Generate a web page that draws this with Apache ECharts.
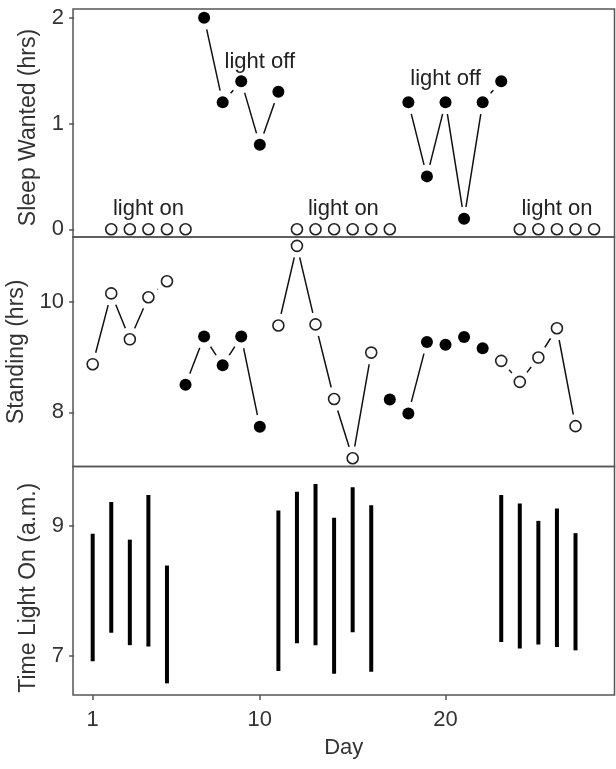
<!DOCTYPE html>
<html>
<head>
<meta charset="utf-8">
<script src="https://cdn.jsdelivr.net/npm/echarts@6/dist/echarts.min.js"></script>
<style>
html, body { margin: 0; padding: 0; background: #fff; }
#main { width: 616px; height: 769px; }
</style>
</head>
<body>
<div id="main"></div>
<script>
// panel 1 - sleep wanted (hrs)
var sleepOnDaysA = [2, 3, 4, 5, 6];
var sleepOnValsA = [0, 0, 0, 0, 0];
var sleepOffDaysA = [7, 8, 9, 10, 11];
var sleepOffValsA = [2.0, 1.2, 1.4, 0.8, 1.3];
var sleepOnDaysB = [12, 13, 14, 15, 16, 17];
var sleepOnValsB = [0, 0, 0, 0, 0, 0];
var sleepOffDaysB = [18, 19, 20, 21, 22, 23];
var sleepOffValsB = [1.2, 0.5, 1.2, 0.1, 1.2, 1.4];
var sleepOnDaysC = [24, 25, 26, 27, 28];
var sleepOnValsC = [0, 0, 0, 0, 0];

// panel 2 - standing (hrs)
var standOnDaysA = [1, 2, 3, 4, 5];
var standOnValsA = [8.87, 10.15, 9.32, 10.08, 10.37];
var standOffDaysA = [6, 7, 8, 9, 10];
var standOffValsA = [8.50, 9.37, 8.85, 9.37, 7.74];
var standOnDaysB = [11, 12, 13, 14, 15, 16];
var standOnValsB = [9.57, 11.01, 9.59, 8.24, 7.17, 9.08];
var standOffDaysB = [17, 18, 19, 20, 21, 22];
var standOffValsB = [8.23, 7.98, 9.27, 9.22, 9.36, 9.16];
var standOnDaysC = [23, 24, 25, 26, 27];
var standOnValsC = [8.93, 8.55, 8.99, 9.52, 7.75];

// panel 3 - time light on (a.m.), low / high
var lightDays = [1, 2, 3, 4, 5, 11, 12, 13, 14, 15, 16, 23, 24, 25, 26, 27];
var lightLow = [6.91, 7.35, 7.16, 7.14, 6.57, 6.76, 7.19, 7.16, 6.72, 7.36, 6.75, 7.21, 7.11, 7.17, 7.13, 7.08];
var lightHigh = [8.88, 9.37, 8.79, 9.48, 8.39, 9.24, 9.53, 9.65, 9.13, 9.60, 9.32, 9.48, 9.35, 9.08, 9.27, 8.89];

// annotations in panel 1
var noteText = ['light on', 'light off', 'light on', 'light off', 'light on'];
var noteDay = [4, 10, 14.5, 20, 26];
var noteVal = [0.19, 1.58, 0.19, 1.42, 0.19];

var dayTicks = [1, 10, 20];
var sleepTicks = [0, 1, 2];
var standTicks = [8, 10];
var lightTicks = [7, 9];

var FONT = 'Liberation Sans, Arial, sans-serif';
var TXT = '#333';
var FRAME = '#555';

var chartDom = document.getElementById('main');
var myChart = echarts.init(chartDom);

function pts(days, vals) {
    return days.map(function (d, i) {
        return [d, vals[i]];
    });
}

// line + white mask (gap round the points) + marker, like an R type="b" plot
function group(idx, days, vals, filled) {
    var data = pts(days, vals);
    return [{
        type: 'line',
        xAxisIndex: idx,
        yAxisIndex: idx,
        data: data,
        symbol: 'none',
        silent: true,
        z: 2,
        lineStyle: {color: '#111', width: 1.5}
    }, {
        type: 'scatter',
        xAxisIndex: idx,
        yAxisIndex: idx,
        data: data,
        symbolSize: 24,
        silent: true,
        z: 3,
        itemStyle: {color: '#fff', opacity: 1}
    }, {
        type: 'scatter',
        xAxisIndex: idx,
        yAxisIndex: idx,
        data: data,
        symbolSize: filled ? 12 : 11,
        z: 4,
        itemStyle: filled
            ? {color: '#000', opacity: 1}
            : {color: '#fff', borderColor: '#222', borderWidth: 1.6, opacity: 1}
    }];
}

function xAx(idx, showLabels) {
    return {
        type: 'value',
        gridIndex: idx,
        min: -0.06,
        max: 29.1,
        axisLine: {show: false},
        splitLine: {show: false},
        axisTick: {
            show: showLabels,
            customValues: dayTicks,
            length: 5,
            lineStyle: {color: FRAME, width: 1.5}
        },
        axisLabel: {
            show: showLabels,
            customValues: dayTicks,
            margin: 14,
            fontSize: 22,
            fontFamily: FONT,
            color: TXT
        },
        name: showLabels ? 'Day' : '',
        nameLocation: 'middle',
        nameGap: 42,
        nameTextStyle: {fontSize: 22, fontFamily: FONT, color: TXT}
    };
}

function yAx(idx, min, max, ticks, title, shift) {
    return {
        type: 'value',
        gridIndex: idx,
        min: min,
        max: max,
        axisLine: {show: false},
        splitLine: {show: false},
        axisTick: {
            show: true,
            customValues: ticks,
            length: 5,
            lineStyle: {color: FRAME, width: 1.5}
        },
        axisLabel: {
            customValues: ticks,
            margin: 9,
            fontSize: 22,
            fontFamily: FONT,
            color: TXT
        },
        name: title,
        nameLocation: 'middle',
        nameRotate: 90,
        nameGap: 33,
        nameTextStyle: {fontSize: 23, fontFamily: FONT, color: TXT, padding: [0, shift, 0, 0]}
    };
}

var gridBase = {
    show: true,
    left: 73,
    right: 1.5,
    z: 10,
    backgroundColor: 'transparent',
    borderColor: FRAME,
    borderWidth: 1.5,
    outerBoundsMode: 'none'
};

var series = [];
series = series.concat(group(0, sleepOnDaysA, sleepOnValsA, false));
series = series.concat(group(0, sleepOffDaysA, sleepOffValsA, true));
series = series.concat(group(0, sleepOnDaysB, sleepOnValsB, false));
series = series.concat(group(0, sleepOffDaysB, sleepOffValsB, true));
series = series.concat(group(0, sleepOnDaysC, sleepOnValsC, false));
series = series.concat(group(1, standOnDaysA, standOnValsA, false));
series = series.concat(group(1, standOffDaysA, standOffValsA, true));
series = series.concat(group(1, standOnDaysB, standOnValsB, false));
series = series.concat(group(1, standOffDaysB, standOffValsB, true));
series = series.concat(group(1, standOnDaysC, standOnValsC, false));

series.push({
    type: 'custom',
    xAxisIndex: 2,
    yAxisIndex: 2,
    z: 4,
    data: lightDays.map(function (d, i) {
        return [d, lightLow[i], lightHigh[i]];
    }),
    encode: {x: 0, y: [1, 2]},
    renderItem: function (params, api) {
        var p1 = api.coord([api.value(0), api.value(1)]);
        var p2 = api.coord([api.value(0), api.value(2)]);
        return {
            type: 'line',
            shape: {x1: p1[0], y1: p1[1], x2: p2[0], y2: p2[1]},
            style: {stroke: '#000', lineWidth: 4}
        };
    }
});

series.push({
    type: 'scatter',
    xAxisIndex: 0,
    yAxisIndex: 0,
    z: 6,
    silent: true,
    symbolSize: 1,
    itemStyle: {color: 'rgba(0,0,0,0)'},
    label: {
        show: true,
        position: 'inside',
        fontSize: 22,
        fontFamily: FONT,
        color: '#222',
        textBorderWidth: 0,
        opacity: 1,
        formatter: function (p) {
            return noteText[p.dataIndex];
        }
    },
    data: pts(noteDay, noteVal)
});

var option = {
    animation: false,
    backgroundColor: '#fff',
    grid: [
        Object.assign({}, gridBase, {top: 9, height: 228}),
        Object.assign({}, gridBase, {top: 237, height: 229.5}),
        Object.assign({}, gridBase, {top: 466.5, height: 228.5})
    ],
    xAxis: [xAx(0, false), xAx(1, false), xAx(2, true)],
    yAxis: [
        yAx(0, -0.073, 2.082, sleepTicks, 'Sleep Wanted (hrs)', 9),
        yAx(1, 7.02, 11.17, standTicks, 'Standing (hrs)', 0),
        yAx(2, 6.39, 9.92, lightTicks, 'Time Light On (a.m.)', 14)
    ],
    series: series
};

myChart.setOption(option);
</script>
</body>
</html>
